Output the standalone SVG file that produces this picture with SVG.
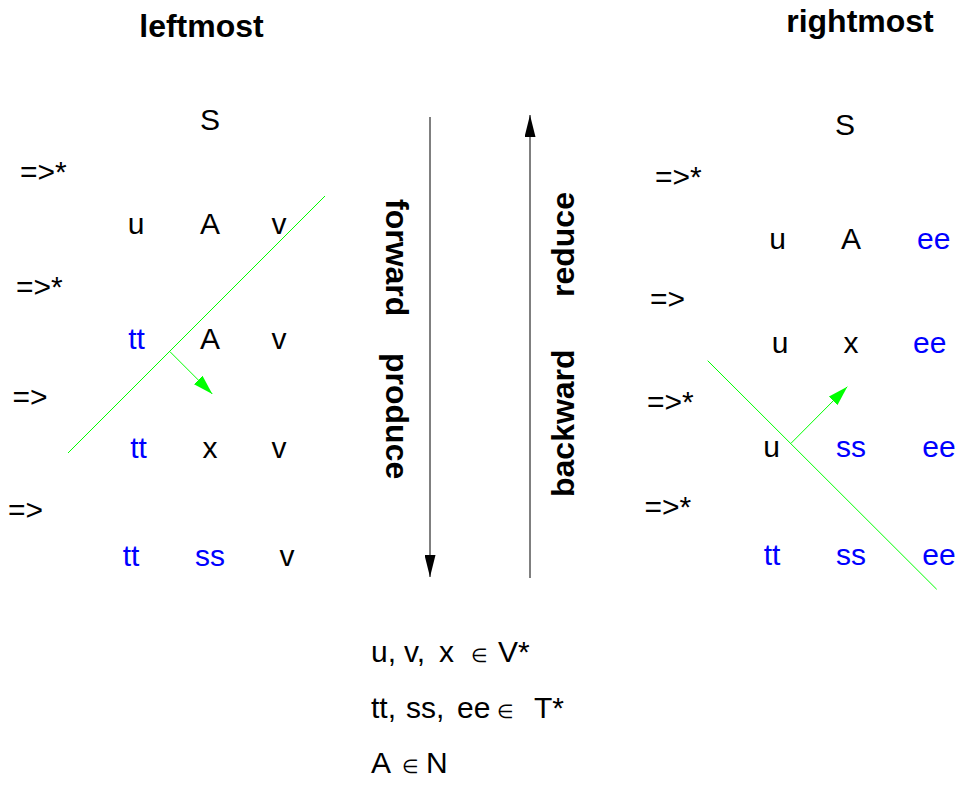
<svg xmlns="http://www.w3.org/2000/svg" width="959" height="790" viewBox="0 0 959 790">
<defs>
<style>
text{font-family:"Liberation Sans",Arial,"DejaVu Sans",sans-serif;font-size:30px;fill:#000}
.b{fill:#0000ff}
.h{font-weight:bold;font-size:32px}
.m{text-anchor:middle}
.el{font-size:19px}
.blk{stroke:#000;stroke-width:1;fill:none}
.grn{stroke:#00ff00;stroke-width:1;fill:none}
</style>
<marker id="ah" markerUnits="userSpaceOnUse" markerWidth="22" markerHeight="11" refX="22" refY="5.5" orient="auto">
<path d="M0,0 L22,5.5 L0,11 z" fill="#000"/>
</marker>
<marker id="gh" markerUnits="userSpaceOnUse" markerWidth="20" markerHeight="12" refX="20" refY="6" orient="auto">
<path d="M0,0 L20,6 L0,12 z" fill="#00ff00"/>
</marker>
</defs>
<rect width="959" height="790" fill="#fff"/>
<g id="headings">
<text class="h m" x="201.5" y="37">leftmost</text>
<text class="h m" x="860" y="32">rightmost</text>
</g>
<g id="left-derivation">
<text class="m" x="210" y="129.5">S</text>
<text x="20" y="181.5">=&gt;*</text>
<text class="m" x="136" y="233.5">u</text>
<text class="m" x="210" y="233.5">A</text>
<text class="m" x="279" y="233.5">v</text>
<text x="16" y="296.5">=&gt;*</text>
<text class="m b" x="136.5" y="349">tt</text>
<text class="m" x="210" y="349">A</text>
<text class="m" x="279" y="349">v</text>
<text x="12.5" y="406.5">=&gt;</text>
<text class="m b" x="138.5" y="458">tt</text>
<text class="m" x="210" y="458">x</text>
<text class="m" x="279" y="458">v</text>
<text x="8" y="519.5">=&gt;</text>
<text class="m b" x="131" y="566">tt</text>
<text class="m b" x="210" y="566">ss</text>
<text class="m" x="287" y="566">v</text>
</g>
<g id="right-derivation">
<text class="m" x="845" y="134.5">S</text>
<text x="655" y="186.5">=&gt;*</text>
<text class="m" x="777.5" y="249">u</text>
<text class="m" x="851" y="249">A</text>
<text class="m b" x="933.7" y="249">ee</text>
<text x="650" y="308.5">=&gt;</text>
<text class="m" x="780" y="353">u</text>
<text class="m" x="851" y="353">x</text>
<text class="m b" x="929.7" y="353">ee</text>
<text x="647" y="411.5">=&gt;*</text>
<text class="m" x="771.5" y="457">u</text>
<text class="m b" x="851" y="457">ss</text>
<text class="m b" x="939" y="457">ee</text>
<text x="644.5" y="516.5">=&gt;*</text>
<text class="m b" x="772" y="565">tt</text>
<text class="m b" x="851" y="565">ss</text>
<text class="m b" x="939" y="565">ee</text>
</g>
<g id="direction-labels">
<text class="h" transform="translate(386,199) rotate(90)">forward</text>
<text class="h" transform="translate(386,353) rotate(90)">produce</text>
<text class="h" transform="translate(574,297) rotate(-90)">reduce</text>
<text class="h" transform="translate(574,497) rotate(-90)">backward</text>
</g>
<g id="connectors">
<line class="blk" x1="430" y1="117" x2="430" y2="577" marker-end="url(#ah)"/>
<line class="blk" x1="530" y1="578" x2="530" y2="115" marker-end="url(#ah)"/>
<line class="grn" x1="68" y1="453" x2="325" y2="196"/>
<line class="grn" x1="170" y1="351.7" x2="212.3" y2="394" marker-end="url(#gh)"/>
<line class="grn" x1="707.7" y1="360.7" x2="936.7" y2="589.3"/>
<line class="grn" x1="791" y1="443.3" x2="847.3" y2="386.7" marker-end="url(#gh)"/>
</g>
<g id="legend">
<text x="371" y="662">u,<tspan x="404">v,</tspan><tspan x="439">x</tspan><tspan class="el" x="471">∈</tspan><tspan x="498">V*</tspan></text>
<text x="371" y="718">tt,<tspan x="406">ss,</tspan><tspan x="457">ee</tspan><tspan class="el" x="497">∈</tspan><tspan x="534">T*</tspan></text>
<text x="371" y="773">A<tspan class="el" x="402">∈</tspan><tspan x="426">N</tspan></text>
</g>
</svg>
